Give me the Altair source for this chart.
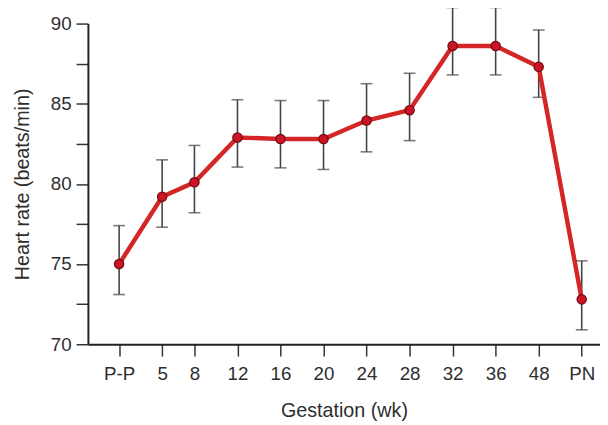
import altair as alt
import pandas as pd

# Categories (axis labels) and their positions along the gestation axis
labels = ["P-P", "5", "8", "12", "16", "20", "24", "28", "32", "36", "48", "PN"]
positions = [1, 5, 8, 12, 16, 20, 24, 28, 32, 36, 40, 44]

# Mean heart rate and error-bar limits (beats/min)
heart_rate = [75.0, 79.2, 80.1, 82.9, 82.8, 82.8, 83.95, 84.6, 88.6, 88.6, 87.3, 72.8]
lower = [73.1, 77.3, 78.2, 81.05, 81.0, 80.9, 82.0, 82.7, 86.8, 86.8, 85.4, 70.9]
upper = [77.4, 81.5, 82.4, 85.25, 85.2, 85.2, 86.25, 86.9, 91.0, 91.0, 89.6, 75.2]

y_ticks = [70, 72.5, 75, 77.5, 80, 82.5, 85, 87.5, 90]

df = pd.DataFrame({
    "pos": positions, "label": labels, "hr": heart_rate,
    "lo": lower, "hi": upper,
})

FONT = "Liberation Sans"
pos_js = "[" + ",".join(str(p) for p in positions) + "]"
lab_js = "[" + ",".join("'" + l + "'" for l in labels) + "]"
label_expr = f"{lab_js}[indexof({pos_js}, datum.value)]"

x_scale = alt.Scale(domain=[-1.9, 45.7], nice=False, zero=False)
y_scale = alt.Scale(domain=[70, 90], nice=False, zero=False)

x_enc = alt.X(
    "pos:Q", scale=x_scale,
    axis=alt.Axis(
        title="Gestation (wk)", values=positions, labelExpr=label_expr,
        grid=False, domainColor="#222", domainWidth=2,
        tickColor="#333", tickWidth=1.5, tickSize=12,
        labelFont=FONT, labelFontSize=19, labelColor="#2e2e2e", labelPadding=9,
        titleFont=FONT, titleFontSize=20, titleFontWeight="normal", titleColor="#2e2e2e",
        titlePadding=17, labelFlush=False,
    ),
)
y_axis = alt.Axis(
    title="Heart rate (beats/min)", values=y_ticks,
    labelExpr="datum.value % 5 == 0 ? datum.label : ''",
    grid=False, domainColor="#222", domainWidth=2,
    tickColor="#333", tickWidth=1.5, tickSize=12,
    labelFont=FONT, labelFontSize=19, labelColor="#2e2e2e", labelPadding=5,
    titleFont=FONT, titleFontSize=20, titleFontWeight="normal", titleColor="#2e2e2e",
    titlePadding=18,
)

base = alt.Chart(df)

bars = base.mark_rule(color="#444", strokeWidth=1.6).encode(
    x=x_enc, y=alt.Y("lo:Q", scale=y_scale, axis=y_axis), y2="hi:Q"
)
caps_lo = base.mark_tick(color="#444", orient="horizontal", size=12, thickness=1.6).encode(
    x="pos:Q", y="lo:Q"
)
caps_hi = base.mark_tick(color="#444", orient="horizontal", size=12, thickness=1.6).encode(
    x="pos:Q", y="hi:Q"
)
line = base.mark_line(color="#d42626", strokeWidth=4.5).encode(
    x="pos:Q", y="hr:Q"
)
points = base.mark_point(
    shape="circle", filled=True, size=90, fill="#cc1426", stroke="#6e0a12",
    strokeWidth=1.2, opacity=1,
).encode(x="pos:Q", y="hr:Q")

chart = alt.layer(bars, caps_lo, caps_hi, line, points).properties(
    width=519, height=325,
    autosize=alt.AutoSizeParams(type="none"),
    padding={"left": 81, "top": 13, "right": 0, "bottom": 75},
    background="white",
).configure_view(stroke=None)

chart.save("out.html", embed_options={"renderer": "svg", "actions": False})
